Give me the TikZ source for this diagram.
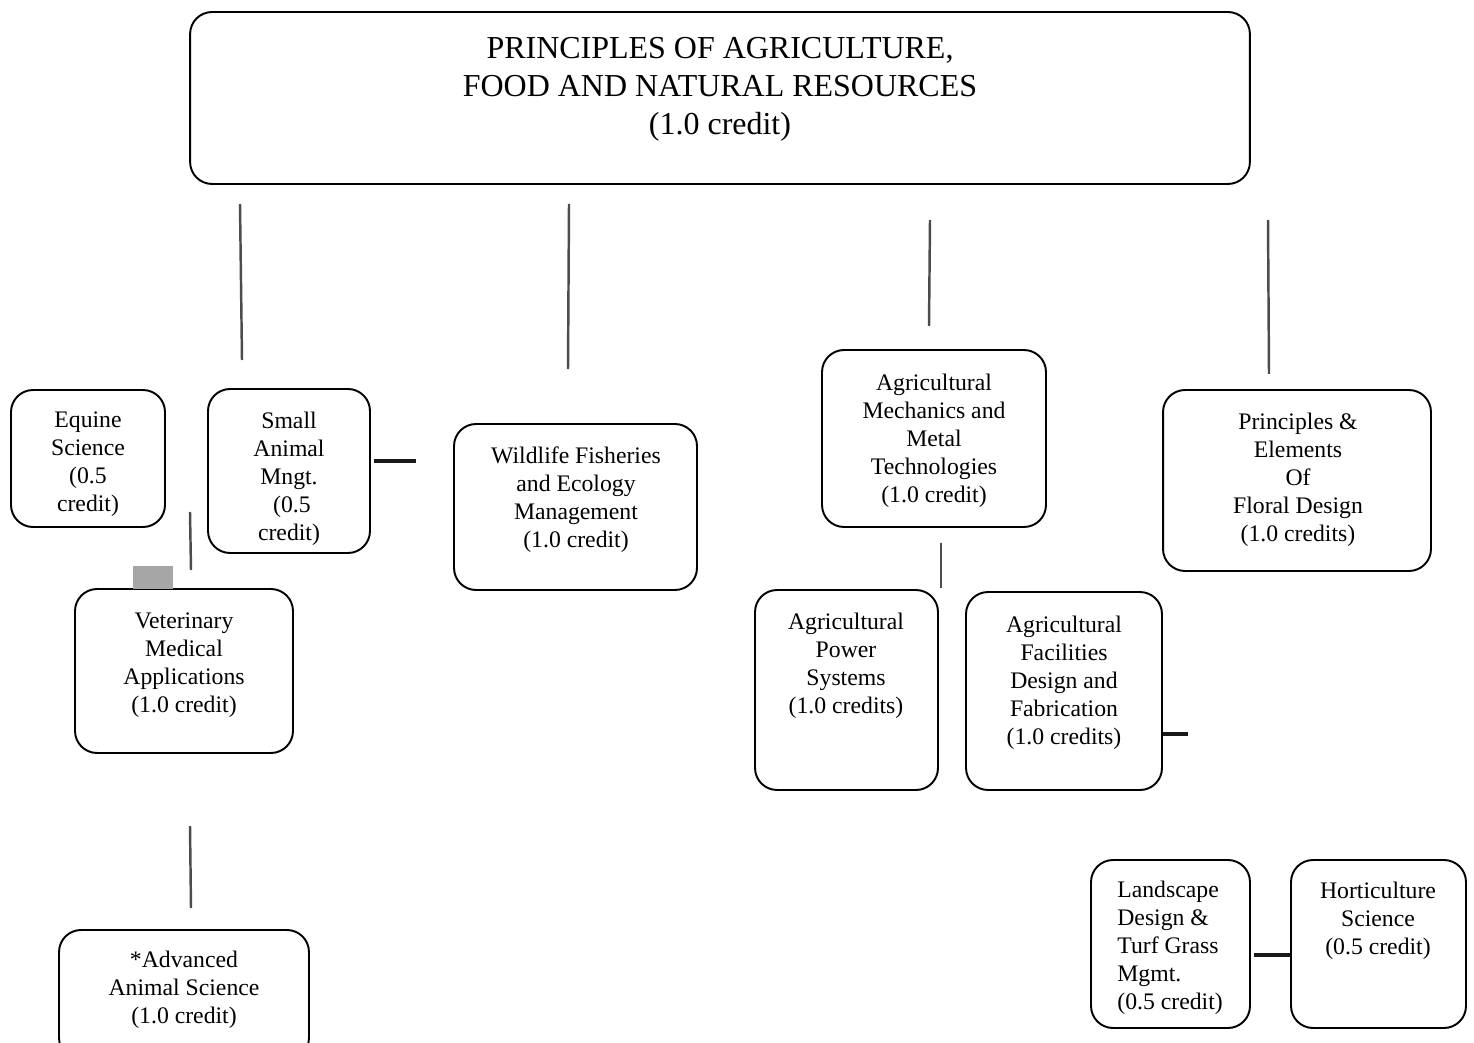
\documentclass[tikz,border=0pt]{standalone}
\usepackage{fontspec}
\setmainfont{Liberation Serif}
\begin{document}
\begin{tikzpicture}[x=0.02cm,y=-0.02cm,
  box/.style={draw,line width=1.1pt,rounded corners=0.44cm,inner sep=0pt},
  txt/.style={align=center,font=\fontsize{13.5}{15.9}\selectfont,inner sep=0pt},
  stub/.style={line width=1.4pt,black!70},
  bar/.style={line width=1.8pt,black!90}]
  \useasboundingbox (0,0) rectangle (1474,1043);
  \clip (0,0) rectangle (1474,1043);
  % boxes
  \node[box,minimum width=21.2cm,minimum height=3.44cm] (title) at (720,98){};
  \node[align=center,inner sep=0pt,font=\fontsize{18.2}{21.6}\selectfont] (titletxt) at (720,89)
    {PRINCIPLES OF AGRICULTURE,\\FOOD AND NATURAL RESOURCES\\(1.0 credit)};
  \node[box,minimum width=3.08cm,minimum height=2.74cm] (equine) at (88,458.5){};
  \node[txt] (equinetxt) at (88,464){Equine\\Science\\(0.5\\credit)};
  \node[box,minimum width=3.24cm,minimum height=3.28cm] (small) at (289,471){};
  \node[txt] (smalltxt) at (289,479){Small\\Animal\\Mngt.\\\ (0.5\\credit)};
  \node[box,minimum width=4.86cm,minimum height=3.32cm] (wild) at (575.5,507){};
  \node[txt] (wildtxt) at (576,500){Wildlife Fisheries\\and Ecology\\Management\\(1.0 credit)};
  \node[box,minimum width=4.48cm,minimum height=3.54cm] (mech) at (934,438.5){};
  \node[txt] (mechtxt) at (934,441){Agricultural\\Mechanics and\\Metal\\Technologies\\(1.0 credit)};
  \node[box,minimum width=5.36cm,minimum height=3.62cm] (floral) at (1297,480.5){};
  \node[txt] (floraltxt) at (1298,480){Principles \&\\Elements\\Of\\Floral Design\\(1.0 credits)};
  \node[box,minimum width=4.36cm,minimum height=3.28cm] (vet) at (184,671){};
  \node[txt] (vettxt) at (184,665){Veterinary\\Medical\\Applications\\(1.0 credit)};
  \node[fill=black!35,inner sep=0pt,minimum width=0.8cm,minimum height=0.46cm] (tab) at (153,577.5){};
  \node[box,minimum width=3.66cm,minimum height=4.0cm] (power) at (846.5,690){};
  \node[txt] (powertxt) at (846,666){Agricultural\\Power\\Systems\\(1.0 credits)};
  \node[box,minimum width=3.92cm,minimum height=3.96cm] (facil) at (1064,691){};
  \node[txt] (faciltxt) at (1064,683){Agricultural\\Facilities\\Design and\\Fabrication\\(1.0 credits)};
  \node[box,minimum width=5.0cm,minimum height=2.6cm] (adv) at (184,995){};
  \node[txt] (advtxt) at (184,990){*Advanced\\Animal Science\\(1.0 credit)};
  \node[box,minimum width=3.18cm,minimum height=3.36cm] (land) at (1170.5,944){};
  \node[txt,align=left,anchor=west] (landtxt) at (1117,948){Landscape\\Design \&\\Turf Grass\\Mgmt.\\(0.5 credit)};
  \node[box,minimum width=3.5cm,minimum height=3.36cm] (hort) at (1378.5,944){};
  \node[txt] (horttxt) at (1378,921){Horticulture\\Science\\(0.5 credit)};
  % loose stubs
  \coordinate (s1a) at (240,204); \coordinate (s1b) at (242,360);
  \coordinate (s2a) at (569,204); \coordinate (s2b) at (568,369);
  \coordinate (s3a) at (930,220); \coordinate (s3b) at (929,326);
  \coordinate (s4a) at (1268,220); \coordinate (s4b) at (1269,374);
  \coordinate (s5a) at (190,512); \coordinate (s5b) at (191,570);
  \coordinate (s6a) at (941,543); \coordinate (s6b) at (941,588);
  \coordinate (s7a) at (190,826); \coordinate (s7b) at (191,908);
  \draw[stub] (s1a)--(s1b); \draw[stub] (s2a)--(s2b);
  \draw[stub] (s3a)--(s3b); \draw[stub] (s4a)--(s4b);
  \draw[stub] (s5a)--(s5b); \draw[stub] (s6a)--(s6b);
  \draw[stub] (s7a)--(s7b);
  \coordinate (h1) at (416,461); \coordinate (h2) at (1188,734);
  \draw[bar] (small.east)++(3,-10) -- (h1);
  \draw[bar] (facil.east |- h2) -- (h2);
  \draw[bar] (land.east)++(3,11) -- (hort.west |- 0,955);
\end{tikzpicture}
\end{document}
